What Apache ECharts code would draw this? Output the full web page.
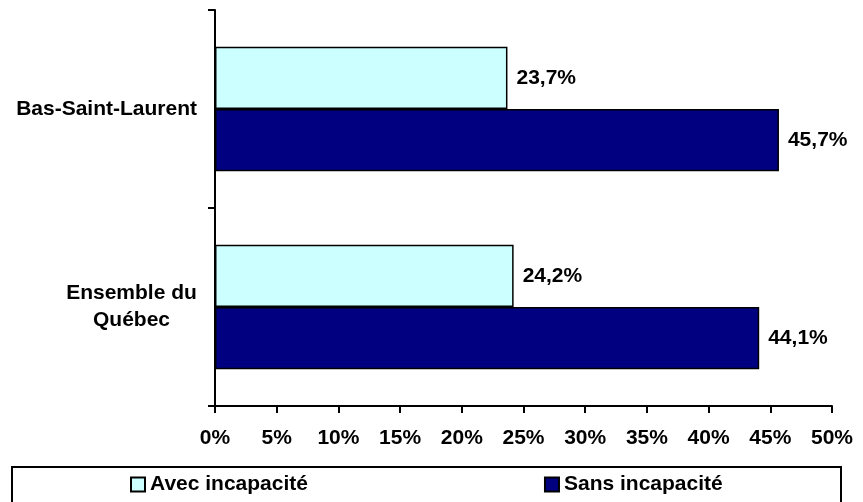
<!DOCTYPE html>
<html>
<head>
<meta charset="utf-8">
<script src="https://cdn.jsdelivr.net/npm/echarts@6/dist/echarts.min.js"></script>
<style>
html,body{margin:0;padding:0;background:#fff;}
#chart{width:863px;height:502px;}
</style>
</head>
<body>
<div id="chart"></div>
<script>
var categories = ['Bas-Saint-Laurent', 'Ensemble du\nQuébec'];
var seriesNames = ['Avec incapacité', 'Sans incapacité'];
var avecValues = [23.7, 24.2];
var sansValues = [45.7, 44.1];
var xTicks = [0, 5, 10, 15, 20, 25, 30, 35, 40, 45, 50];

var FONT = '"Liberation Sans", Arial, sans-serif';
var FS = 21;
var chart = echarts.init(document.getElementById('chart'), null, {renderer: 'canvas'});

function fmtPct(v) {
  return v.toFixed(1).replace('.', ',') + '%';
}

var labelStyle = {
  show: true,
  position: 'right',
  distance: 9,
  fontFamily: FONT,
  fontWeight: 'bold',
  fontSize: FS,
  color: '#000',
  formatter: function (p) { return fmtPct(p.value); }
};

chart.setOption({
  animation: false,
  backgroundColor: '#fff',
  grid: {left: 215, right: 31, top: 10, bottom: 96, containLabel: false},
  xAxis: {
    type: 'value',
    min: xTicks[0],
    max: xTicks[xTicks.length - 1],
    interval: xTicks[1] - xTicks[0],
    splitLine: {show: false},
    axisLine: {show: true, lineStyle: {color: '#000', width: 2}},
    axisTick: {show: true, length: 7, lineStyle: {color: '#000', width: 2}},
    axisLabel: {
      margin: 22,
      fontFamily: FONT, fontWeight: 'bold', fontSize: FS, color: '#000',
      formatter: '{value}%'
    }
  },
  yAxis: {
    type: 'category',
    data: categories,
    inverse: true,
    axisLine: {show: true, lineStyle: {color: '#000', width: 2}},
    axisTick: {show: true, length: 7, lineStyle: {color: '#000', width: 2}},
    axisLabel: {
      margin: 18,
      fontFamily: FONT, fontWeight: 'bold', fontSize: FS, color: '#000',
      formatter: function (v) {
        if (v.indexOf('\n') >= 0) {
          return v.split('\n').map(function (s) { return '{c|' + s + '}'; }).join('\n');
        }
        return v;
      },
      rich: {
        c: {width: 131, align: 'center', fontFamily: FONT, fontWeight: 'bold', fontSize: FS, color: '#000', lineHeight: 27}
      }
    }
  },
  legend: {
    data: seriesNames,
    left: 130,
    top: 474,
    padding: 0,
    itemWidth: 14,
    itemHeight: 14,
    itemGap: 236,
    icon: 'rect',
    textStyle: {fontFamily: FONT, fontWeight: 'bold', fontSize: FS, color: '#000'}
  },
  graphic: [{
    type: 'rect',
    shape: {x: 12, y: 467, width: 829, height: 45},
    style: {fill: 'none', stroke: '#000', lineWidth: 2},
    silent: true,
    z: -1
  }],
  series: [
    {
      name: seriesNames[0],
      type: 'bar',
      data: avecValues,
      barGap: '0%',
      barCategoryGap: '37%',
      itemStyle: {color: '#CCFFFF', borderColor: '#000', borderWidth: 1.5},
      label: labelStyle
    },
    {
      name: seriesNames[1],
      type: 'bar',
      data: sansValues,
      barGap: '0%',
      barCategoryGap: '37%',
      itemStyle: {color: '#000080', borderColor: '#000', borderWidth: 1.5},
      label: labelStyle
    }
  ]
});
</script>
</body>
</html>
